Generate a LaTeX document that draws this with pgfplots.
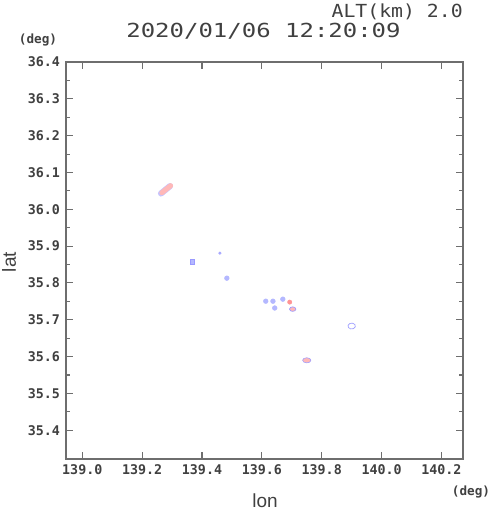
\documentclass[border=0pt]{standalone}
\usepackage{pgfplots}
\pgfplotsset{compat=1.18}
\usepackage{fontspec}
\setmainfont{Liberation Sans}
\newfontfamily\tickfont{DejaVu Sans Mono}
\newfontfamily\titlefont[FakeStretch=1.24]{DejaVu Sans Mono}
\newfontfamily\altfont[FakeStretch=1.1]{DejaVu Sans Mono}
\definecolor{axgray}{HTML}{6E6E6E}
\definecolor{txtgray}{HTML}{404040}
\definecolor{bfill}{HTML}{B4B8FF}
\definecolor{bedge}{HTML}{9A9AFF}
\definecolor{bedgel}{HTML}{C4C4FF}
\definecolor{pfill}{HTML}{FFB8B8}
\definecolor{rfill}{HTML}{FF9494}
\begin{document}
\begin{tikzpicture}[x=0.75pt,y=0.75pt]
\useasboundingbox (-66,-62) rectangle (424,459);
\begin{axis}[
  at={(0,0)}, anchor=south west,
  scale only axis, width=297.75pt, height=297.75pt,
  xmin=138.9456, xmax=140.272, ymin=35.322, ymax=36.4,
  xtick={139.0,139.2,...,140.21}, minor x tick num=1,
  ytick={35.4,35.5,...,36.41}, minor y tick num=1,
  tick align=inside,
  major tick length=5.25pt, minor tick length=3pt,
  axis line style={axgray, line width=0.9pt},
  every tick/.style={axgray, line width=0.8pt},
  tick label style={font=\tickfont\bfseries\fontsize{10}{12}\selectfont, text=txtgray},
  /pgf/number format/.cd, fixed, fixed zerofill, precision=1, assume math mode=true,
  /pgfplots/.cd,
  xticklabel style={yshift=-1pt},
  yticklabel style={xshift=-1pt},
  clip=true,
]
% elongated pink cell (northwest)
\addplot[bedgel, line width=4.6pt, line cap=round] coordinates {(139.263,36.043) (139.293,36.063)};
\addplot[pfill, line width=3.8pt, line cap=round] coordinates {(139.266,36.045) (139.295,36.064)};
% blue cells
\addplot[only marks, mark=square*, mark size=1.5pt, mark options={fill=bfill, draw=bedge, line width=0.3pt, yscale=1.3}]
  coordinates {(139.367,35.857)};
\addplot[only marks, mark=*, mark size=1.0pt, mark options={fill=bfill, draw=bedge, line width=0.3pt}]
  coordinates {(139.460,35.881)};
\addplot[only marks, mark=*, mark size=1.8pt, mark options={fill=bfill, draw=bfill, line width=0.3pt}]
  coordinates {(139.483,35.813) (139.613,35.7505) (139.637,35.7505) (139.670,35.756) (139.643,35.732)};
% red / pink cells
\addplot[only marks, mark=*, mark size=1.6pt, mark options={fill=rfill, draw=rfill}]
  coordinates {(139.693,35.748)};
\addplot[only marks, mark=*, mark size=2.0pt, mark options={fill=pfill, draw=bedge, line width=0.5pt, xscale=1.2, yscale=0.85}]
  coordinates {(139.703,35.729)};
\addplot[only marks, mark=*, mark size=2.4pt, mark options={fill=pfill, draw=bedge, line width=0.4pt, xscale=1.3, yscale=0.8}]
  coordinates {(139.750,35.590)};
% open blue ring (east)
\addplot[only marks, mark=o, mark size=2.8pt, mark options={draw=bedge, line width=0.5pt, fill=white, yscale=0.8, rotate=30}]
  coordinates {(139.900,35.683)};
\end{axis}
\node[anchor=east, text=txtgray, font=\altfont\fontsize{13.5}{15}\selectfont, inner sep=0pt] at (397,447) {ALT(km) 2.0};
\node[text=txtgray, font=\titlefont\fontsize{14.5}{16}\selectfont, inner sep=0pt] at (197.5,428) {2020/01/06 12:20:09};
\node[text=txtgray, font=\tickfont\bfseries\fontsize{9.5}{11}\selectfont, inner sep=0pt] at (-28,419) {(deg)};
\node[text=txtgray, font=\tickfont\bfseries\fontsize{9.5}{11}\selectfont, inner sep=0pt] at (405,-33) {(deg)};
\node[anchor=base, text=txtgray, font=\fontsize{14.25}{16}\selectfont, inner sep=0pt] at (199,-48) {lon};
\node[anchor=base, rotate=90, text=txtgray, font=\fontsize{14.25}{16}\selectfont, inner sep=0pt] at (-50,197) {lat};
\end{tikzpicture}
\end{document}
